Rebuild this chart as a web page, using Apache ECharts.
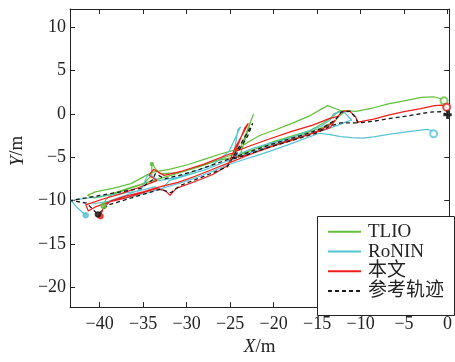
<!DOCTYPE html>
<html>
<head>
<meta charset="utf-8">
<script src="https://cdn.jsdelivr.net/npm/echarts@6/dist/echarts.min.js"></script>
<style>
  html, body { margin: 0; padding: 0; background: #fff; }
  #chart { width: 455px; height: 362px; }
</style>
</head>
<body>
<div id="chart"></div>
<script>
// tick labels
const xTicks = [-40, -35, -30, -25, -20, -15, -10, -5, 0];
const yTicks = [-20, -15, -10, -5, 0, 5, 10];
const seriesNames = ["TLIO", "RoNIN", "本文", "参考轨迹"];

// trajectories, [X, Y] in metres
const tlioPath = [
  [-0.4, 1.5], [-0.9, 1.8], [-1.6, 1.97], [-3.0, 1.9], [-5.0, 1.5], [-6.8, 1.15], [-8.5, 0.7], [-10.5, 0.28],
  [-12.3, 0.39], [-13.8, 0.95], [-15.8, -0.2], [-17.9, -1.1], [-19.7, -1.8], [-21.6, -2.5], [-23.0, -3.3],
  [-24.2, -4.1], [-26.0, -4.6], [-28.0, -5.25], [-30.0, -5.9], [-32.0, -6.4], [-34.0, -6.75], [-36.4, -8.05],
  [-38.5, -8.6], [-40.5, -9.0], [-41.4, -9.4],
  [-40.6, -9.7], [-38.5, -9.3], [-36.5, -8.6], [-35.0, -8.1], [-34.0, -7.1], [-34.0, -5.7], [-33.6, -6.3],
  [-33.1, -6.9], [-31.0, -6.8], [-29.0, -6.2], [-27.0, -5.5], [-25.0, -4.8], [-23.8, -3.9], [-22.3, 0.0],
  [-22.6, -0.8], [-23.8, -4.6], [-22.0, -4.0], [-20.0, -3.2], [-18.0, -2.6], [-16.0, -2.0], [-14.5, -1.2],
  [-13.3, -0.4], [-12.6, 0.25], [-11.6, 0.35],
  [-12.4, -0.2], [-13.0, -0.9], [-14.5, -1.6], [-16.5, -2.3], [-18.5, -2.9], [-20.5, -3.5], [-22.5, -4.2],
  [-24.5, -5.0], [-26.5, -5.4], [-28.5, -6.1], [-30.5, -6.7], [-32.5, -7.3], [-34.5, -7.9], [-36.5, -8.5],
  [-38.5, -9.2], [-39.3, -9.9], [-39.55, -10.6]
];
const roninPath = [
  [-1.6, -2.3], [-1.8, -1.95], [-2.3, -1.79], [-4.5, -2.05], [-6.8, -2.36], [-8.5, -2.65], [-9.75, -2.81],
  [-11.0, -2.75], [-12.3, -2.62], [-13.5, -2.4], [-14.7, -2.24], [-16.0, -2.7], [-17.9, -3.4], [-19.8, -4.1],
  [-21.6, -4.7], [-23.5, -5.3], [-25.3, -5.9], [-27.0, -6.6], [-28.5, -7.2], [-30.5, -7.9], [-32.5, -8.5],
  [-34.5, -9.1], [-36.5, -9.6], [-38.5, -10.0], [-40.8, -10.4],
  [-39.0, -10.1], [-37.0, -9.4], [-35.2, -8.7], [-34.6, -7.3], [-34.3, -7.0], [-33.2, -7.7], [-31.0, -7.3],
  [-29.0, -6.6], [-27.0, -5.9], [-25.1, -4.3], [-23.8, -1.5], [-24.1, -1.8], [-24.6, -4.9], [-22.5, -4.0],
  [-20.0, -3.3], [-18.0, -2.7], [-16.0, -2.0], [-14.5, -1.4], [-13.5, -0.7], [-13.1, 0.0], [-12.5, 0.2],
  [-11.9, 0.2], [-11.0, -0.74],
  [-11.6, -0.9], [-12.6, -1.3], [-14.0, -1.8], [-16.0, -2.3], [-18.0, -2.95], [-20.0, -3.55], [-22.0, -4.25],
  [-24.0, -4.95], [-26.0, -5.7], [-28.0, -6.5], [-30.0, -7.1], [-32.0, -7.7], [-32.9, -8.8], [-33.6, -8.4],
  [-35.5, -8.9], [-43.3, -10.0], [-42.6, -10.8], [-41.6, -11.7]
];
const oursPath = [
  [-0.1, 0.76], [-0.6, 1.0], [-1.5, 0.95], [-3.1, 0.6], [-5.0, 0.25], [-6.8, -0.15], [-8.5, -0.6], [-10.3, -0.95],
  [-10.6, -0.3], [-11.3, 0.35], [-12.1, 0.3], [-12.6, -0.3], [-13.6, -0.55], [-15.5, -1.3], [-18.0, -2.05],
  [-20.5, -2.9], [-23.0, -3.8], [-25.5, -4.8], [-28.0, -5.8], [-30.5, -6.6], [-32.6, -7.1],
  [-33.8, -6.4], [-34.3, -7.1], [-33.4, -7.7],
  [-35.5, -8.5], [-37.5, -9.2], [-39.5, -9.8], [-41.6, -10.5], [-41.3, -11.2], [-40.4, -10.7],
  [-39.0, -10.2], [-37.0, -9.7], [-35.0, -9.1], [-33.4, -8.6], [-32.4, -8.9], [-31.9, -9.4], [-31.2, -8.6],
  [-29.0, -7.8], [-27.0, -7.0], [-25.3, -6.0],
  [-24.5, -4.1], [-22.9, -1.1], [-23.3, -1.6], [-24.7, -5.1],
  [-22.5, -4.6], [-20.0, -3.7], [-18.0, -3.1], [-16.0, -2.4], [-14.5, -1.8], [-13.3, -1.1], [-12.9, -0.7],
  [-13.5, -1.6], [-15.0, -2.1], [-17.0, -2.7], [-19.0, -3.3], [-21.0, -4.0], [-23.0, -4.8], [-25.0, -5.6],
  [-27.0, -6.4], [-29.0, -7.2], [-31.0, -7.9], [-33.0, -8.4], [-35.0, -9.0], [-37.0, -9.5], [-38.8, -10.1],
  [-39.6, -10.9], [-39.9, -11.8]
];
const refPath = [
  [0.0, -0.1], [-0.8, 0.25], [-2.0, 0.2], [-3.5, -0.05], [-5.0, -0.3], [-6.8, -0.55], [-8.5, -0.85], [-10.3, -1.05],
  [-10.6, -0.4], [-11.2, 0.3], [-12.2, 0.2], [-12.9, -0.7],
  [-14.5, -1.7], [-16.5, -2.4], [-18.5, -3.0], [-20.5, -3.6], [-22.5, -4.3], [-24.5, -5.0], [-26.5, -5.7],
  [-28.5, -6.4], [-30.5, -7.0], [-32.5, -7.5],
  [-33.6, -6.9], [-33.9, -7.6], [-35.3, -8.6],
  [-43.3, -10.0], [-41.5, -10.3], [-40.9, -10.9], [-40.2, -11.6],
  [-39.0, -10.5], [-37.0, -9.9], [-35.0, -9.3], [-33.0, -8.7], [-31.8, -9.1], [-30.8, -8.3], [-29.0, -7.6],
  [-27.0, -6.8], [-25.3, -6.1],
  [-24.2, -4.2], [-22.4, -1.1], [-23.0, -2.6], [-24.6, -5.2],
  [-23.0, -4.7], [-21.0, -4.0], [-19.0, -3.4], [-17.0, -2.8], [-15.0, -2.2], [-13.5, -1.4], [-12.3, -1.05],
  [-10.3, -1.05]
];

// start / end points
const tlioEnds = [[-0.4, 1.5], [-39.55, -10.6], [-34.0, -5.8]];
const roninEnds = [[-1.6, -2.3], [-41.6, -11.7]];
const oursEnds = [[-0.1, 0.76], [-39.9, -11.8]];
const refEnds = [[0.0, -0.1], [-40.2, -11.6]];

const colors = ["#62bf3a", "#56c3d3", "#f01c1c", "#1a1a1a"];
const serif = "'Liberation Serif', 'Times New Roman', 'Noto Sans CJK SC', serif";
const minus = (v) => String(v).replace("-", "\u2212");

const chart = echarts.init(document.getElementById("chart"), null, { renderer: "canvas" });

const axisCommon = {
  type: "value",
  axisLine: { show: true, onZero: false, lineStyle: { color: "#222", width: 1 } },
  splitLine: { show: false },
};

const pathSeries = (name, data, color, dashed) => ({
  name: name,
  type: "line",
  data: data,
  symbol: "none",
  z: 3,
  lineStyle: { color: color, width: dashed ? 1.3 : 1.2, type: dashed ? [4, 3] : "solid" },
  itemStyle: { color: color },
});

const endSeries = (data, color, cross) => ({
  type: "scatter",
  data: data.map((p, i) => ({
    value: p,
    symbol: i === 0 ? (cross ? "path://M4,0h2v4h4v2h-4v4h-2v-4h-4v-2h4z" : "emptyCircle") : "circle",
    symbolSize: i === 0 ? 7 : i === 1 ? 5 : 3,
  })),
  z: 4,
  itemStyle: { color: color, borderColor: color, borderWidth: 1.5 },
  silent: true,
});

const option = {
  animation: false,
  backgroundColor: "#fff",
  grid: { left: 62, right: 1, top: 9, bottom: 47 },
  xAxis: [
    {
      ...axisCommon,
      position: "bottom",
      min: -43.4,
      max: 0.2,
      name: "{i|X}/m",
      nameLocation: "middle",
      nameGap: 25,
      nameTextStyle: {
        fontFamily: serif, fontSize: 19, color: "#222",
        rich: { i: { fontStyle: "italic", fontFamily: serif, fontSize: 19, color: "#222" } },
      },
      axisTick: { show: true, inside: true, length: 5, customValues: xTicks, lineStyle: { color: "#222" } },
      axisLabel: { customValues: xTicks, formatter: minus, fontFamily: serif, fontSize: 18, color: "#222", margin: 8 },
    },
    {
      ...axisCommon,
      position: "top",
      min: -43.4,
      max: 0.2,
      axisTick: { show: true, inside: true, length: 5, customValues: xTicks, lineStyle: { color: "#222" } },
      axisLabel: { show: false, customValues: xTicks },
    },
  ],
  yAxis: [
    {
      ...axisCommon,
      position: "left",
      min: -22.3,
      max: 12.1,
      name: "{i|Y}/m",
      nameLocation: "middle",
      nameGap: 37,
      nameTextStyle: {
        fontFamily: serif, fontSize: 19, color: "#222", padding: [0, 0, 0, 14],
        rich: { i: { fontStyle: "italic", fontFamily: serif, fontSize: 19, color: "#222" } },
      },
      axisTick: { show: true, inside: true, length: 5, customValues: yTicks, lineStyle: { color: "#222" } },
      axisLabel: { customValues: yTicks, formatter: minus, fontFamily: serif, fontSize: 18, color: "#222", margin: 4 },
    },
    {
      ...axisCommon,
      position: "right",
      min: -22.3,
      max: 12.1,
      axisTick: { show: true, inside: true, length: 5, customValues: yTicks, lineStyle: { color: "#222" } },
      axisLabel: { show: false, customValues: yTicks },
    },
  ],
  graphic: [
    {
      type: "rect",
      z: 10,
      shape: { x: 317.5, y: 216.5, width: 137, height: 99 },
      style: { fill: "#fff", stroke: "#222", lineWidth: 1 },
    },
  ],
  legend: {
    data: seriesNames,
    orient: "vertical",
    left: 327,
    top: 222,
    padding: 0,
    itemGap: 0,
    itemWidth: 33,
    itemHeight: 10,
    z: 20,
    itemStyle: { opacity: 0 },
    textStyle: { fontFamily: serif, fontSize: 19, color: "#222", lineHeight: 19.7, padding: [0, 0, 0, 2] },
  },
  series: [
    pathSeries(seriesNames[0], tlioPath, colors[0], false),
    pathSeries(seriesNames[1], roninPath, colors[1], false),
    pathSeries(seriesNames[2], oursPath, colors[2], false),
    pathSeries(seriesNames[3], refPath, colors[3], true),
    endSeries(tlioEnds, colors[0], false),
    endSeries(roninEnds, colors[1], false),
    endSeries(oursEnds, colors[2], false),
    endSeries(refEnds, colors[3], true),
  ],
};

chart.setOption(option);
</script>
</body>
</html>
